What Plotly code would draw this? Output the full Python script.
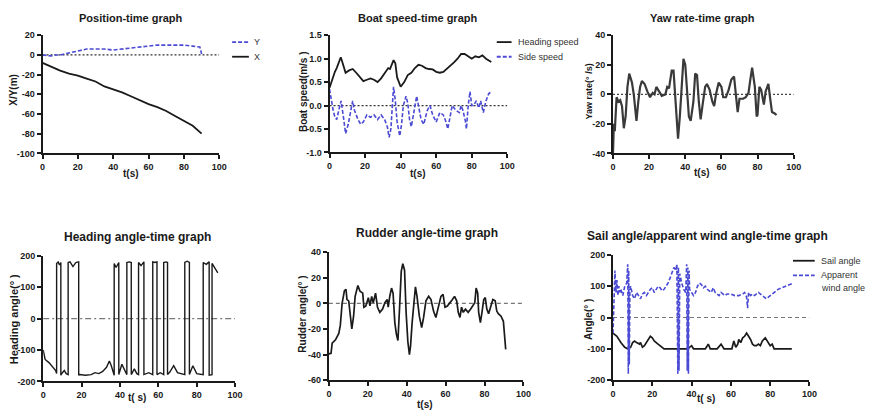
import plotly.graph_objects as go

# ---------------- data ----------------
# Position (m)
pos_t = [0, 5, 10, 15, 20, 25, 30, 35, 40, 45, 50, 55, 60, 65, 70, 75, 80, 85, 90]
pos_x = [-8, -12, -16, -19, -21, -24, -27, -32, -35, -38, -42, -46, -50, -53, -57, -62, -67, -72, -80]
pos_y_t = [0, 3, 5, 7, 10, 15, 20, 25, 30, 35, 40, 45, 50, 55, 60, 65, 70, 75, 80, 85, 89, 89.5, 90]
pos_y = [0, -1, -1, 0, 0, 2, 4, 6, 6, 6, 5, 6, 7, 8, 9, 10, 10, 10, 10, 9, 8, 5, 1]

# Boat speed (m/s)
hs_t = [0, 1, 2, 3, 4, 5, 6.3, 7, 8, 9, 11, 13, 15, 17, 19, 21, 23, 25, 27, 29, 31, 33, 34, 36,
        37, 38, 40, 42, 44, 46, 48, 50, 52, 54, 56, 58, 60, 62, 64, 66, 68, 70, 72, 74, 76, 78,
        80, 82, 84, 86, 88, 91]
hs_v = [0.38, 0.5, 0.62, 0.72, 0.8, 0.9, 1.03, 0.95, 0.8, 0.7, 0.75, 0.78, 0.7, 0.6, 0.52, 0.55,
        0.58, 0.55, 0.5, 0.58, 0.7, 0.8, 0.78, 0.97, 0.9, 0.6, 0.4, 0.5, 0.65, 0.7, 0.8, 0.87,
        0.85, 0.8, 0.78, 0.77, 0.72, 0.7, 0.72, 0.78, 0.85, 0.92, 1.0, 1.1, 1.1, 1.05, 1.0, 1.05,
        1.03, 1.07, 1.0, 0.93]
ss_t = [0, 1, 2, 3, 4, 5.5, 6.5, 8, 9, 10.5, 13, 14, 16, 17.5, 19, 21, 23, 25, 27, 29, 31, 32.5,
        33.5, 34.5, 35.5, 36, 37, 38, 39.5, 40.5, 41.5, 43, 44, 45, 46, 47.5, 49, 50, 51.5, 53,
        55, 56.5, 58, 60, 62, 64, 65.5, 66.5, 68, 69, 71, 73, 74, 75, 76.5, 77, 78, 79, 80, 81,
        82.5, 84, 85, 86.5, 88, 89.5, 91]
ss_v = [0.35, 0.1, -0.1, -0.25, -0.3, -0.05, 0.1, -0.3, -0.6, -0.4, 0.1, -0.1, -0.3, -0.4, -0.35,
        -0.2, -0.25, -0.2, -0.3, -0.2, -0.3, -0.45, -0.68, -0.5, 0.1, 0.4, 0.1, -0.35, -0.65,
        -0.4, 0.0, 0.2, 0.05, -0.3, -0.45, -0.1, 0.2, 0.0, -0.3, -0.4, -0.1, 0.0, -0.2, -0.35,
        -0.15, -0.2, -0.35, -0.5, -0.2, 0.0, -0.1, -0.15, 0.0, -0.1, -0.35, -0.5, 0.0, 0.3, 0.0,
        0.0, 0.1, -0.05, 0.1, -0.15, 0.1, 0.25, 0.3]

# Yaw rate (deg/s)
yaw_t = [0, 0.5, 1, 2, 3, 4, 5, 6, 7, 8, 9, 10.5, 11.5, 12.5, 13, 14, 15, 16, 17.5, 19, 20.5, 22,
         23, 24, 25.5, 27, 29, 30, 31, 32.5, 33.5, 34.5, 35.5, 36, 37, 38, 39, 40, 41, 42, 43,
         44.5, 45.5, 46.5, 47.5, 48.5, 49.5, 51, 52, 53.5, 55, 56, 57, 58.5, 60, 61, 62.5, 64,
         65.5, 67, 68, 69, 70, 72, 73.5, 75, 76, 77, 78.5, 79.5, 80, 81, 82, 83.5, 84.5, 86, 87,
         88, 89.5, 90.5]
yaw_v = [-40, -20, -25, -2, -5, -4, -8, -23, -15, 5, 14, 8, 0, -15, -18, -5, 5, 9, 7, 2, -2, 1, 0,
         5, 2, -1, 0, 5, 4, 16, 16, -5, -20, -30, -15, 5, 24, 20, 0, -15, -18, -5, 14, 13, -5,
         -17, -8, 5, 7, 3, -5, -8, 0, 8, 5, -2, -2, 3, 10, 12, 0, -12, -3, -3, -2, 1, 10, 18, 5,
         -15, -14, 5, 3, -7, 2, 7, -3, -12, -13, -14]

# Heading angle (deg)
hd_t = [0, 1, 3, 5, 6.5, 7, 7, 7.8, 8.5, 9.2, 9.2, 10, 11, 12, 13, 13, 14, 15.5, 17, 18.5, 18.5,
        19, 22, 25, 27, 29, 31, 33, 34.5, 35.5, 36.5, 37, 37, 38, 39.4, 39.4, 41, 42.5, 43.6,
        43.6, 44.8, 45.9, 45.9, 47.5, 48.8, 49.7, 49.7, 51, 52.5, 52.5, 55, 57.1, 57.1, 58.2,
        59.3, 59.3, 61, 62.8, 62.8, 64, 64.8, 64.8, 66, 68, 70, 73.8, 73.8, 75, 76.2, 76.2, 78,
        80, 83.4, 83.4, 85, 86.5, 86.5, 88, 88, 89.5, 91]
hd_v = [-100, -130, -140, -155, -165, -175, 175, 180, 170, 178, -180, -172, -165, -175, -178, 178,
        180, 165, 178, 180, -180, -178, -180, -178, -172, -175, -168, -155, -135, -150, -175,
        -180, 175, 162, 178, -178, -145, -165, -178, 178, 180, 178, -178, -160, -175, -178, 178,
        168, 180, -178, -172, -178, 180, 178, 180, -178, -172, -178, 178, 180, 178, -178, -170,
        -150, -172, -178, 178, 182, 178, -178, -150, -175, -178, 178, 172, 180, -180, -178, 175,
        160, 145]

# Rudder angle (deg)
rd_t = [0, 1.1, 1.7, 3.4, 5.1, 5.9, 6.8, 8, 8.8, 9.3, 10.2, 11, 11.8, 12.7, 13.5, 14.9, 16, 17.4,
        18, 19, 20.3, 21.1, 22, 22.8, 24, 25, 26.2, 27.6, 28.8, 30, 30.5, 31.3, 32.2, 33, 33.9,
        34.7, 35.5, 36.4, 37.2, 38, 38.9, 39.7, 40.6, 41.4, 42, 42.8, 43.7, 44.5, 45.3, 46.5,
        47.7, 48.7, 49.9, 51.3, 52.5, 53.8, 55, 56.4, 57.6, 58.7, 59.7, 60.9, 62.1, 63.5, 64.6,
        65.7, 66.5, 67.4, 68.2, 69.1, 70.2, 71.6, 72.8, 74, 75, 75.7, 76.5, 77, 77.9, 78.7,
        79.6, 80.4, 81.2, 82.1, 83.3, 84.3, 85.5, 86.3, 87.1, 88.5, 89.7, 90.2, 90.9]
rd_v = [-39.5, -39, -31, -28.5, -23.5, -17, 0, 10, 11, 3, 2, -12, -20, -10, 5.5, 14, 9.5, 8, -3,
        -2, 4.5, -2, 5.5, 0.5, 8, -3, -7, -4.5, 0.5, 3, -3, 5.5, 12, 8, -15, -24, -29, -1.5, 25,
        31, 26, -7, -30, -40, -33, -15, 3, 13, 5.5, -10, -19, -11, 2, 5.5, 3, -6, -11, -1, 5.5,
        7, -3, -2, 0, 3, 5.5, 2, -7, -11, -3, -7, -4.5, -7, -4.5, -2, 0.5, 12, 8, -7, -15, -7,
        3, 4.5, -4.5, -8, -1, 3, 2, -6, -8, -10, -14, -25.5, -36]

# Sail angle (deg)
sa_t = [0, 2, 4, 6, 7.5, 9, 10, 11, 12, 13.5, 14, 15, 16, 17, 18, 19, 20, 21, 22, 23, 24, 26, 38,
        39, 40, 41, 47, 48.5, 49.5, 53, 54.5, 55, 56.5, 60.5, 61.5, 62.5, 63.5, 64, 65, 66, 67,
        68, 69, 70, 71, 72, 73, 74, 75, 76, 77.5, 79, 80, 81, 82, 91]
sa_v = [-50, -60, -80, -95, -100, -95, -80, -75, -80, -85, -80, -95, -90, -80, -70, -60, -65, -75,
        -80, -85, -90, -100, -100, -95, -90, -100, -100, -85, -100, -100, -90, -85, -100, -100,
        -75, -95, -85, -70, -80, -65, -60, -50, -60, -70, -85, -90, -90, -85, -90, -75, -65,
        -80, -90, -85, -100, -100]

# Apparent wind angle (deg)
aw_t = [0, 0.5, 1, 1.5, 2, 2.5, 3, 3.5, 4, 5, 6, 7, 7.5, 7.8, 8, 8.3, 8.6, 9, 10, 11, 12, 13, 14,
        15, 16, 17, 18, 19, 20, 21, 22, 23, 24, 25, 26, 27, 28, 29, 30, 31, 32, 32.5, 33, 33.3,
        33.6, 34, 35, 36, 37, 37.5, 37.8, 38.1, 38.4, 38.7, 39, 40, 41, 42, 43, 44, 45, 46, 47,
        48, 49, 50, 51, 52, 53, 54, 55, 56, 57, 58, 60, 62, 64, 66, 67, 68, 68.5, 69, 70, 71, 72,
        74, 76, 78, 80, 82, 84, 86, 88, 90, 91]
aw_v = [-50, 50, 150, 80, 120, 70, 100, 80, 90, 70, 100, 110, 170, -180, 150, -150, 90, 100, 70,
        60, 80, 70, 60, 75, 80, 70, 80, 90, 95, 80, 90, 100, 95, 85, 90, 100, 110, 125, 140, 160,
        150, 170, -180, 160, -170, 140, 110, 90, 80, 170, -170, 160, -180, 150, 90, 80, 70, 80,
        100, 110, 105, 95, 100, 90, 85, 80, 95, 80, 75, 70, 80, 75, 70, 75, 75, 70, 70, 75, 80,
        65, 30, 80, 70, 75, 70, 80, 70, 60, 70, 80, 90, 95, 100, 105, 108]

tick_x = [0, 20, 40, 60, 80, 100]

# ---------------- figure ----------------
W, H = 880, 419
FONT = "Liberation Sans, Arial, sans-serif"
BLUE = "#4a4ad4"
INK = "#1a1a1a"
SHORT_DASH = "4px,2px"


def px(x):
    return x / W


def py(y):
    return 1 - y / H


# panel boxes in pixels: (left, right, top, bottom), y range, y tick step
panels = [
    ((40, 219, 31, 152), (-100, 20), 20),
    ((330.7, 510.7, 31, 151), (-1.0, 1.5), 0.5),
    ((617.7, 800.7, 31, 152), (-40, 40), 20),
    ((40.7, 235, 256.7, 385.7), (-200, 200), 100),
    ((330, 527, 253.3, 384.3), (-60, 40), 20),
    ((617.7, 816.7, 256, 384.3), (-200, 200), 100),
]

fig = go.Figure()
layout = dict(
    width=W, height=H, margin=dict(l=0, r=0, t=0, b=0),
    paper_bgcolor="white", plot_bgcolor="white", showlegend=False,
    font=dict(family=FONT, color=INK),
)
for i, ((l, r, t, b), yr, step) in enumerate(panels):
    n = "" if i == 0 else str(i + 1)
    layout["xaxis" + n] = dict(
        domain=[px(l), px(r)], range=[0, 100], anchor="y" + n,
        tickvals=tick_x, showgrid=False, zeroline=False,
        showline=True, linewidth=2, linecolor=INK,
        ticks="outside", ticklen=4, tickwidth=2, tickcolor=INK,
        tickfont=dict(size=9, family=FONT, weight="bold", color=INK),
    )
    if i == 1:
        yvals = [-1.0, -0.5, 0.0, 0.5, 1.0, 1.5]
        ytext = ["-1.0", "-0.5", "0.0", "0.5", "1.0", "1.5"]
    else:
        yvals = list(range(int(yr[0]), int(yr[1]) + 1, int(step)))
        ytext = [str(v) for v in yvals]
    layout["yaxis" + n] = dict(
        domain=[py(b), py(t)], range=list(yr), anchor="x" + n,
        tickvals=yvals, ticktext=ytext, showgrid=False, zeroline=False,
        showline=True, linewidth=2, linecolor=INK,
        ticks="outside", ticklen=4, tickwidth=2, tickcolor=INK,
        tickfont=dict(size=9, family=FONT, weight="bold", color=INK),
    )
fig.update_layout(**layout)


def add(xs, ys, k, color, width, dash="solid"):
    n = "" if k == 1 else str(k)
    fig.add_trace(go.Scatter(x=xs, y=ys, mode="lines", xaxis="x" + n, yaxis="y" + n,
                             line=dict(color=color, width=width, dash=dash)))


# zero reference lines
zero_styles = [("2px,2px", "#333333"), ("2px,2px", "#333333"), ("2px,2px", "#444444"),
               ("6px,3px,2px,3px", "#777777"), ("4px,3px", "#777777"), ("4px,3px", "#777777")]
for k, (dash, col) in enumerate(zero_styles, start=1):
    add([0, 100], [0, 0], k, col, 1.2, dash)

add(pos_t, pos_x, 1, INK, 1.8)
add(pos_y_t, pos_y, 1, BLUE, 1.6, SHORT_DASH)
add(hs_t, hs_v, 2, INK, 1.8)
add(ss_t, ss_v, 2, BLUE, 1.6, SHORT_DASH)
add(yaw_t, yaw_v, 3, "#3a3a3a", 2.2)
add(hd_t, hd_v, 4, INK, 1.4)
add(rd_t, rd_v, 5, INK, 1.7)
add(sa_t, sa_v, 6, INK, 1.7)
add(aw_t, aw_v, 6, BLUE, 1.6, SHORT_DASH)

ann = []


def text(x, y, s, size, bold=True, angle=0, xanchor="center", color=INK):
    ann.append(dict(x=px(x), y=py(y), xref="paper", yref="paper", text=s, showarrow=False,
                    xanchor=xanchor, yanchor="middle", textangle=angle,
                    font=dict(size=size, family=FONT, color=color,
                              weight="bold" if bold else "normal")))


# panel titles
text(130, 13, "Position-time graph", 11)
text(420, 13, "Boat speed-time graph", 11)
text(708, 13, "Yaw rate-time graph", 11)
text(136, 238, "Heading angle-time graph", 12)
text(429, 234, "Rudder angle-time graph", 12)
text(713, 237, "Sail angle/apparent wind angle-time graph", 12)

# x-axis titles
text(130, 173, "t(s)", 10)
text(420, 173, "t(s)", 10)
text(708, 172, "t(s)", 10)
text(136, 402, "t( s)", 10)
text(427, 409, "t(s)", 10)
text(712, 403, "t( s)", 10)

# y-axis titles
text(11, 87, "X/Y(m)", 10, angle=-90)
text(305, 89, "Boat speed(m/s )", 10, angle=-90)
text(593, 89, "Yaw rate(° /s)", 9, angle=-90)
text(11, 322, "Heading angle(° )", 11, angle=-90)
text(303, 317, "Rudder angle(° )", 10, angle=-90)
text(593, 322, "Angle(° )", 10, angle=-90)

# legend keys
shapes = []


def key(x0, x1, y, color, dash, label_lines, tx):
    shapes.append(dict(type="line", xref="paper", yref="paper", x0=px(x0), x1=px(x1),
                       y0=py(y), y1=py(y), line=dict(color=color, width=1.8, dash=dash)))
    for j, s in enumerate(label_lines):
        text(tx, y + j * 13, s, 9, bold=False, xanchor="left", color="#333333")


key(232, 249, 38, BLUE, SHORT_DASH, ["Y"], 252)
key(232, 249, 53, INK, "solid", ["X"], 252)
key(500, 515, 38, INK, "solid", ["Heading speed"], 519)
key(500, 515, 53, BLUE, SHORT_DASH, ["Side speed"], 519)
key(800, 822, 262, INK, "solid", ["Sail angle"], 826)
key(800, 822, 277, BLUE, SHORT_DASH, ["Apparent", "wind angle"], 826)

fig.update_layout(annotations=ann, shapes=shapes)
fig.write_html("out.html")
